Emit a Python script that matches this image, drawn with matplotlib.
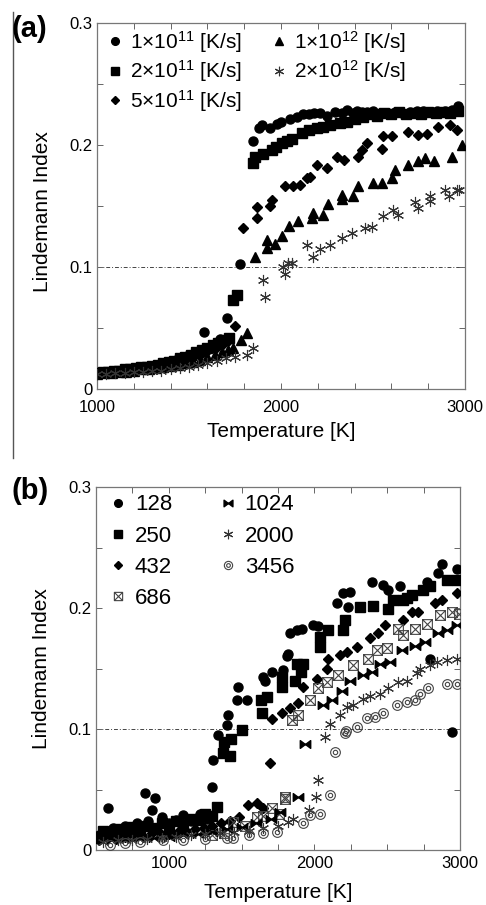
import numpy as np
import matplotlib
matplotlib.use("Agg")
import matplotlib.pyplot as plt
from matplotlib.path import Path
from matplotlib.lines import Line2D
from matplotlib.ticker import FixedLocator, FixedFormatter, NullFormatter

plt.rcParams['font.family'] = ['Liberation Sans', 'DejaVu Sans']
plt.rcParams['mathtext.fontset'] = 'custom'
plt.rcParams['mathtext.rm'] = 'Liberation Sans'

# ---------------- Panel (a) data: cooling rates ----------------
a_labels = ['1×$\\mathregular{10^{11}}$ [K/s]', '2×$\\mathregular{10^{11}}$ [K/s]',
            '5×$\\mathregular{10^{11}}$ [K/s]', '1×$\\mathregular{10^{12}}$ [K/s]',
            '2×$\\mathregular{10^{12}}$ [K/s]']

a1e11_T = [1000,1025,1050,1075,1100,1130,1160,1190,1220,1250,1280,1310,1340,1370,1400,1430,1460,1490,1520,1550,1580,1610,1640,1670,1705,1777,
           1846,1880,1895,1940,1977,2000,2050,2085,2120,2150,2180,2212,2250,2294,2330,2360,2390,2411,2440,2470,2502,2540,2580,2620,2660,2700,2740,2774,2810,2850,2890,2930,2964]
a1e11_L = [0.013,0.013,0.014,0.014,0.015,0.015,0.016,0.016,0.017,0.018,0.019,0.019,0.020,0.021,0.023,0.024,0.025,0.027,0.028,0.030,0.047,0.034,0.037,0.041,0.058,0.1025,
           0.203,0.214,0.2165,0.214,0.2175,0.219,0.221,0.223,0.225,0.225,0.226,0.226,0.224,0.227,0.226,0.229,0.226,0.228,0.227,0.227,0.228,0.226,0.226,0.227,0.226,0.227,0.228,0.228,0.227,0.228,0.228,0.229,0.232]

a2e11_T = [1000,1030,1060,1090,1120,1150,1180,1210,1240,1270,1300,1330,1360,1390,1420,1450,1480,1510,1540,1570,1600,1630,1660,1690,1720,1740,1759,
           1850,1861,1900,1949,1975,2004,2031,2060,2112,2150,2194,2230,2266,2320,2360,2400,2447,2480,2520,2560,2600,2640,2680,2720,2760,2800,2840,2880,2920,2960]
a2e11_L = [0.013,0.014,0.014,0.015,0.015,0.016,0.016,0.017,0.018,0.018,0.019,0.020,0.021,0.022,0.023,0.025,0.026,0.028,0.030,0.032,0.034,0.036,0.038,0.040,0.042,0.073,0.077,
           0.185,0.190,0.193,0.196,0.198,0.2015,0.203,0.205,0.2097,0.212,0.214,0.215,0.2165,0.2178,0.219,0.221,0.2233,0.225,0.224,0.226,0.225,0.227,0.225,0.226,0.225,0.227,0.226,0.227,0.226,0.228]

a5e11_T = [1000,1040,1080,1120,1160,1200,1240,1280,1320,1360,1400,1440,1480,1520,1560,1600,1640,1680,1720,1750,
           1795,1868,1868,1940,1949,2022,2067,2104,2140,2160,2194,2248,2303,2340,2420,2439,2466,2547,2557,2602,2692,2747,2793,2855,2919,2955]
a5e11_L = [0.013,0.014,0.014,0.015,0.016,0.016,0.017,0.018,0.019,0.020,0.022,0.023,0.025,0.026,0.028,0.031,0.033,0.036,0.040,0.0517,
           0.132,0.140,0.149,0.150,0.155,0.166,0.166,0.167,0.173,0.174,0.184,0.181,0.1905,0.188,0.190,0.196,0.2015,0.197,0.207,0.207,0.211,0.208,0.209,0.215,0.2165,0.212]

a1e12_T = [1000,1040,1080,1120,1160,1200,1240,1280,1320,1360,1400,1440,1480,1520,1560,1600,1640,1680,1710,1740,1780,1813,
           1859,1922,1922,1968,2004,2044,2094,2167,2176,2230,2257,2330,2330,2393,2420,2502,2548,2602,2620,2692,2747,2784,2829,2928,2982]
a1e12_L = [0.012,0.013,0.013,0.014,0.014,0.015,0.016,0.016,0.017,0.018,0.019,0.020,0.021,0.022,0.024,0.026,0.028,0.030,0.032,0.034,0.040,0.0457,
           0.1085,0.1153,0.122,0.119,0.125,0.1337,0.1373,0.140,0.1445,0.143,0.1517,0.156,0.159,0.158,0.166,0.169,0.169,0.1732,0.1796,0.184,0.187,0.189,0.187,0.1905,0.200]

a2e12_T = [1000,1050,1100,1150,1200,1250,1300,1350,1400,1450,1500,1550,1600,1650,1700,1750,1813,1850,
           1904,1913,2009,2022,2040,2058,2140,2176,2212,2266,2330,2384,2456,2493,2557,2611,2638,2728,2747,2811,2811,2893,2911,2955,2970]
a2e12_L = [0.012,0.012,0.013,0.013,0.014,0.014,0.015,0.015,0.016,0.017,0.018,0.020,0.021,0.023,0.025,0.026,0.0279,0.034,
           0.0894,0.0757,0.1003,0.094,0.103,0.103,0.118,0.1085,0.115,0.118,0.1238,0.1277,0.132,0.133,0.142,0.147,0.143,0.1536,0.148,0.158,0.1537,0.1632,0.158,0.1632,0.1635]

# ---------------- Panel (b) data: cluster sizes ----------------
b_labels = ['128', '250', '432', '686', '1024', '2000', '3456']

b128_T = [520,560,585,620,660,700,740,780,820,837,860,882,905,951,1000,1050,1100,1150,1214,1260,1295,1306,1340,1397,1409,1466,1477,1535,1649,1660,1707,1786,1810,1821,1832,1878,1912,1992,2026,2153,2198,2232,2244,2393,2473,2508,2588,2771,2794,2851,2874,2943,2977]
b128_L = [0.012,0.015,0.0344,0.018,0.014,0.020,0.017,0.022,0.019,0.047,0.024,0.033,0.0427,0.0275,0.022,0.025,0.029,0.024,0.030,0.026,0.0523,0.0743,0.095,0.103,0.1115,0.124,0.135,0.124,0.143,0.140,0.147,0.1487,0.160,0.162,0.179,0.182,0.183,0.186,0.185,0.204,0.212,0.201,0.213,0.2216,0.219,0.215,0.218,0.2216,0.158,0.229,0.2367,0.0977,0.2325]

b250_T = [510,550,600,650,700,750,800,850,900,950,1000,1050,1100,1150,1200,1250,1300,1329,1374,1381,1417,1424,1500,1630,1638,1672,1775,1775,1867,1878,1907,1924,2039,2039,2095,2198,2210,2313,2405,2508,2542,2611,2634,2668,2748,2794,2908,2977]
b250_L = [0.010,0.016,0.013,0.017,0.015,0.019,0.016,0.020,0.018,0.022,0.019,0.024,0.021,0.026,0.025,0.030,0.028,0.0358,0.080,0.089,0.078,0.092,0.099,0.124,0.113,0.1265,0.135,0.143,0.140,0.154,0.147,0.154,0.168,0.176,0.182,0.182,0.190,0.201,0.2015,0.199,0.2065,0.2065,0.208,0.2105,0.215,0.218,0.223,0.223]

b432_T = [520,580,640,700,760,820,880,940,1000,1060,1120,1180,1240,1300,1360,1420,1480,1546,1608,1650,
          1695,1707,1775,1832,1890,1924,2016,2084,2095,2176,2221,2290,2382,2439,2485,2611,2668,2714,2828,2874,2977]
b432_L = [0.008,0.010,0.009,0.011,0.012,0.011,0.013,0.014,0.013,0.015,0.016,0.017,0.018,0.020,0.022,0.024,0.027,0.037,0.039,0.035,
          0.0716,0.1086,0.113,0.117,0.1215,0.135,0.1417,0.150,0.158,0.161,0.164,0.168,0.175,0.179,0.186,0.190,0.197,0.197,0.204,0.2065,0.212]

b686_T = [1300,1380,1443,1520,1605,1650,1708,1760,1798,1800,
          1844,1890,1970,2027,2084,2164,2267,2370,2428,2496,2576,2611,2691,2771,2863,2943,2990]
b686_L = [0.012,0.014,0.023,0.020,0.027,0.028,0.035,0.030,0.044,0.042,
          0.1074,0.1115,0.124,0.1335,0.139,0.1445,0.153,0.158,0.1655,0.167,0.183,0.178,0.183,0.187,0.194,0.197,0.195]

b1024_T = [600,700,800,900,1000,1100,1200,1300,1400,1500,1600,1700,1764,1890,
           1935,2061,2118,2187,2244,2336,2393,2450,2519,2600,2691,2760,2851,2908,2977]
b1024_L = [0.008,0.009,0.010,0.010,0.011,0.012,0.013,0.015,0.017,0.019,0.022,0.026,0.0316,0.044,
           0.088,0.120,0.124,0.131,0.140,0.1445,0.147,0.154,0.155,0.165,0.169,0.172,0.179,0.182,0.186]

b2000_T = [550,650,750,850,950,1050,1150,1250,1350,1450,1550,1650,1750,1818,1853,1965,2010,2027,
           2073,2107,2176,2221,2267,2336,2382,2450,2507,2576,2634,2703,2726,2794,2840,2908,2977]
b2000_L = [0.007,0.008,0.008,0.009,0.010,0.011,0.012,0.013,0.014,0.015,0.016,0.018,0.020,0.023,0.026,0.033,0.044,0.058,
           0.0936,0.104,0.1115,0.1184,0.1198,0.125,0.127,0.129,0.134,0.139,0.140,0.146,0.150,0.153,0.155,0.157,0.158]

b3456_T = [596,700,800,961,1100,1250,1400,1441,1550,1650,1741,1924,1970,2039,2107,
           2141,2210,2215,2290,2359,2416,2473,2565,2634,2691,2726,2783,2908,2977]
b3456_L = [0.004,0.006,0.007,0.008,0.008,0.009,0.010,0.010,0.012,0.014,0.015,0.022,0.029,0.030,0.0454,
           0.081,0.0964,0.098,0.102,0.1087,0.110,0.113,0.120,0.1225,0.124,0.129,0.134,0.1376,0.1376]

# ---------------- custom markers ----------------
bowtie = Path([(-1, -0.75), (-1, 0.75), (0, 0), (-1, -0.75),
               (1, -0.75), (1, 0.75), (0, 0), (1, -0.75)],
              [Path.MOVETO, Path.LINETO, Path.LINETO, Path.CLOSEPOLY,
               Path.MOVETO, Path.LINETO, Path.LINETO, Path.CLOSEPOLY])
boxx = Path([(-1, -1), (1, -1), (1, 1), (-1, 1), (-1, -1),
             (-1, -1), (1, 1), (-1, 1), (1, -1)],
            [Path.MOVETO, Path.LINETO, Path.LINETO, Path.LINETO, Path.CLOSEPOLY,
             Path.MOVETO, Path.LINETO, Path.MOVETO, Path.LINETO])
c_out = Path.unit_circle()
c_in = Path(c_out.vertices * 0.45, c_out.codes)
dcirc = Path.make_compound_path(c_out, c_in)
aster = (6, 2, 0)

fig = plt.figure(figsize=(4.86, 9.05), dpi=100)
axA = fig.add_axes([97/486, 1-389/905, 368/486, 366/905])
axB = fig.add_axes([96/486, 1-850/905, 364/486, 363/905])

fig.add_artist(Line2D([13/486, 13/486], [1-12/905, 1-458/905], color='#555', lw=1.0))

def style_axes(ax, xlim, xmaj, xmin, xpad):
    ax.set_xlim(*xlim)
    ax.set_ylim(0, 0.3)
    ax.xaxis.set_major_locator(FixedLocator(xmaj))
    ax.xaxis.set_major_formatter(FixedFormatter([str(v) for v in xmaj]))
    ax.xaxis.set_minor_locator(FixedLocator(xmin))
    ax.xaxis.set_minor_formatter(NullFormatter())
    ax.yaxis.set_major_locator(FixedLocator([0, 0.1, 0.2, 0.3]))
    ax.yaxis.set_major_formatter(FixedFormatter(['0', '0.1', '0.2', '0.3']))
    ax.yaxis.set_minor_locator(FixedLocator([0.05, 0.15, 0.25]))
    ax.yaxis.set_minor_formatter(NullFormatter())
    ax.tick_params(which='both', direction='in', top=True, right=True,
                   length=4, width=0.7, color='#666', labelsize=12)
    ax.tick_params(axis='x', which='major', pad=xpad)
    ax.tick_params(axis='y', which='major', pad=3)
    for s in ax.spines.values():
        s.set_color('#777')
        s.set_linewidth(0.9)
    ax.axhline(0.1, color='#444', lw=0.7, ls=(0, (4, 2, 1, 2)), zorder=1)
    ax.set_xlabel('Temperature [K]', fontsize=15)
    ax.set_ylabel('Lindemann Index', fontsize=15)
    ax.xaxis.label.set_va('center')
    ax.yaxis.label.set_va('center')

# ---------------- Panel (a) ----------------
style_axes(axA, (1000, 3000), [1000, 2000, 3000], list(range(1200, 3000, 200)), 8)
axA.xaxis.set_label_coords(0.5, -0.115)
axA.yaxis.set_label_coords(-0.147, 0.485)
ha = []
ha.append(axA.plot(a1e11_T, a1e11_L, 'o', color='k', ms=6.5, ls='none', zorder=3)[0])
ha.append(axA.plot(a2e11_T, a2e11_L, 's', color='k', ms=6.5, ls='none', zorder=3)[0])
ha.append(axA.plot(a5e11_T, a5e11_L, 'D', color='k', ms=4.8, ls='none', zorder=3)[0])
ha.append(axA.plot(a1e12_T, a1e12_L, '^', color='k', ms=6.5, ls='none', zorder=3)[0])
ha.append(axA.plot(a2e12_T, a2e12_L, marker=aster, color='#333', mec='#333', ms=8, mew=0.8, ls='none', zorder=3)[0])
legA = axA.legend(ha, a_labels, ncol=2, loc='upper left', bbox_to_anchor=(0.026, 0.984),
                  frameon=False, fontsize=15, handlelength=0.8, handletextpad=0.32,
                  columnspacing=1.4, labelspacing=0.17, borderaxespad=0.0, borderpad=0.0,
                  markerscale=0.85)
fig.text(11/486, 1-29/905, '(a)', fontsize=21, fontweight='bold', va='center', ha='left')

# ---------------- Panel (b) ----------------
style_axes(axB, (500, 3000), [1000, 2000, 3000], [500, 750, 1250, 1500, 1750, 2250, 2500, 2750], 4)
axB.xaxis.set_label_coords(0.5, -0.116)
axB.yaxis.set_label_coords(-0.151, 0.5)
hb = []
hb.append(axB.plot(b128_T, b128_L, 'o', color='k', ms=6.5, ls='none', zorder=3)[0])
hb.append(axB.plot(b250_T, b250_L, 's', color='k', ms=7, ls='none', zorder=3)[0])
hb.append(axB.plot(b432_T, b432_L, 'D', color='k', ms=4.8, ls='none', zorder=3)[0])
hb.append(axB.plot(b686_T, b686_L, marker=boxx, color='#444', mfc='none', mec='#444', ms=7, mew=0.8, ls='none', zorder=3)[0])
hb.append(axB.plot(b1024_T, b1024_L, marker=bowtie, color='k', ms=7.5, ls='none', zorder=3)[0])
hb.append(axB.plot(b2000_T, b2000_L, marker=aster, color='#333', mec='#333', ms=8, mew=0.8, ls='none', zorder=3)[0])
hb.append(axB.plot(b3456_T, b3456_L, marker=dcirc, color='#444', mfc='none', mec='#444', ms=7, mew=0.8, ls='none', zorder=3)[0])
legB = axB.legend(hb, b_labels, ncol=2, loc='upper left', bbox_to_anchor=(0.03, 0.986),
                  frameon=False, fontsize=16, handlelength=0.8, handletextpad=0.36,
                  columnspacing=2.1, labelspacing=0.46, borderaxespad=0.0, borderpad=0.1,
                  markerscale=0.85)
fig.text(11/486, 1-491/905, '(b)', fontsize=21, fontweight='bold', va='center', ha='left')

fig.savefig('out.png', dpi=100)
